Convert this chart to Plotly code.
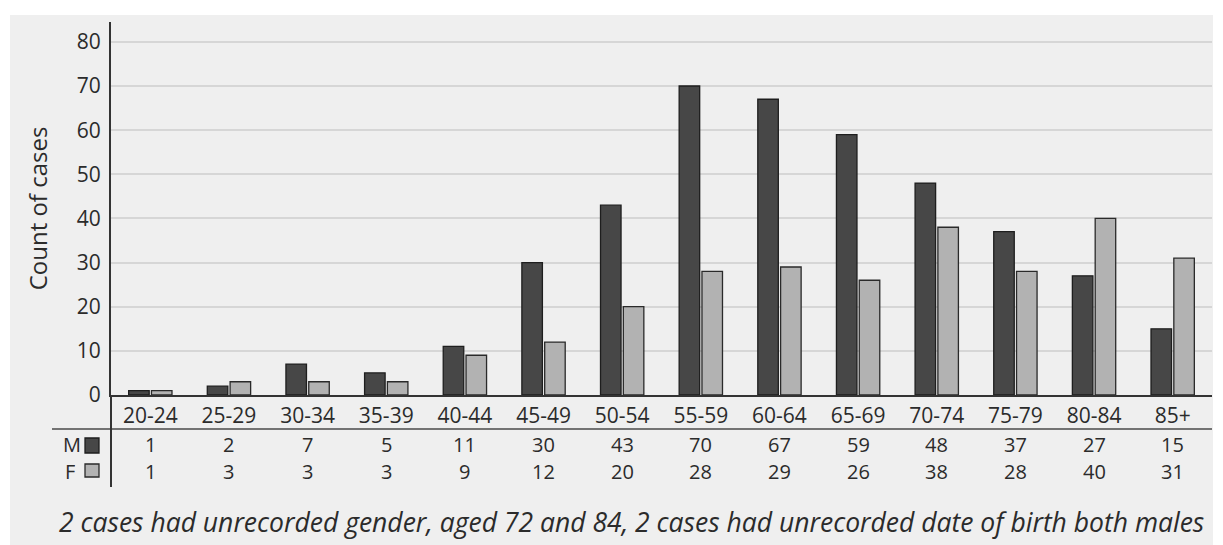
import plotly.graph_objects as go

categories = ["20-24", "25-29", "30-34", "35-39", "40-44", "45-49", "50-54",
              "55-59", "60-64", "65-69", "70-74", "75-79", "80-84", "85+"]
male = [1, 2, 7, 5, 11, 30, 43, 70, 67, 59, 48, 37, 27, 15]
female = [1, 3, 3, 3, 9, 12, 20, 28, 29, 26, 38, 28, 40, 31]
y_ticks = [0, 10, 20, 30, 40, 50, 60, 70, 80]
footnote = "2 cases had unrecorded gender, aged 72 and 84, 2 cases had unrecorded date of birth both males"

OFF = 8  # page body margin
W, H = 1215, 537
L, R, T, B = 103, 11, 14, 150
pw, ph = W - L - R, H - T - B

def px_y(p):  # screen pixel row -> paper y
    return (H - B - (p - OFF)) / ph

def px_x(p):  # screen pixel col -> paper x
    return ((p - OFF) - L) / pw

FONT = "Open Sans"
TXT = "#2b2b2b"
BG = "#efefef"
MCOL, MLINE = "#474747", "#1e1e1e"
FCOL, FLINE = "#b2b2b2", "#2a2a2a"
FS = 21
TFS = 20

fig = go.Figure()
fig.add_trace(go.Bar(x=categories, y=male, name="M",
                     marker=dict(color=MCOL, line=dict(color=MLINE, width=1.3))))
fig.add_trace(go.Bar(x=categories, y=female, name="F",
                     marker=dict(color=FCOL, line=dict(color=FLINE, width=1.3))))

annotations = []
for c, m, f in zip(categories, male, female):
    annotations.append(dict(x=c, y=px_y(444), xref="x", yref="paper", text=str(m),
                            yanchor="middle", xanchor="center", height=22,
                            showarrow=False, font=dict(size=TFS, color=TXT, family=FONT)))
    annotations.append(dict(x=c, y=px_y(471), xref="x", yref="paper", text=str(f),
                            yanchor="middle", xanchor="center", height=22,
                            showarrow=False, font=dict(size=TFS, color=TXT, family=FONT)))
annotations.append(dict(x=px_x(83), y=px_y(444), xref="paper", yref="paper", text="M",
                        xanchor="right", yanchor="middle", showarrow=False, height=22,
                        font=dict(size=TFS, color=TXT, family=FONT)))
annotations.append(dict(x=px_x(77), y=px_y(471), xref="paper", yref="paper", text="F",
                        xanchor="right", yanchor="middle", showarrow=False, height=22,
                        font=dict(size=TFS, color=TXT, family=FONT)))
annotations.append(dict(x=px_x(631), y=px_y(522), xref="paper", yref="paper",
                        text="<i>" + footnote + "</i>", showarrow=False,
                        xanchor="center", yanchor="middle",
                        font=dict(size=26.5, color=TXT, family=FONT)))

shapes = [
    # grey panel
    dict(type="rect", xref="paper", yref="paper", x0=px_x(10), x1=px_x(1213),
         y0=px_y(560), y1=px_y(15), fillcolor=BG, line=dict(width=0), layer="below"),
    # separator under category labels
    dict(type="line", xref="paper", yref="paper", x0=px_x(52), x1=1, y0=px_y(429), y1=px_y(429),
         line=dict(color="#4a4a4a", width=1.5)),
    # y axis extension through table
    dict(type="line", xref="paper", yref="paper", x0=0, x1=0, y0=px_y(487), y1=0,
         line=dict(color="#333333", width=2)),
    # legend squares
    dict(type="rect", xref="paper", yref="paper", x0=px_x(85), x1=px_x(99),
         y0=px_y(453), y1=px_y(438), fillcolor=MCOL, line=dict(color=MLINE, width=1.3)),
    dict(type="rect", xref="paper", yref="paper", x0=px_x(85), x1=px_x(99),
         y0=px_y(477), y1=px_y(464), fillcolor=FCOL, line=dict(color=FLINE, width=1.3)),
]

fig.update_layout(
    width=W, height=H,
    margin=dict(l=L, r=R, t=T, b=B, pad=0),
    paper_bgcolor="white", plot_bgcolor=BG,
    barmode="group", bargap=0.42, bargroupgap=0.1,
    showlegend=False,
    font=dict(family=FONT, color=TXT, size=FS),
    xaxis=dict(showline=True, linecolor="#333333", linewidth=2, ticks="", showgrid=False,
               tickfont=dict(size=FS, color=TXT), ticklabelstandoff=1, fixedrange=True),
    yaxis=dict(range=[0, 84.5], tickvals=y_ticks, showline=True, linecolor="#333333", linewidth=2,
               showgrid=True, gridcolor="#d6d6d6", gridwidth=1.5, zeroline=False,
               ticks="", ticklabelstandoff=4,
               tickfont=dict(size=FS, color=TXT),
               title=dict(text="Count of cases", font=dict(size=24, color=TXT), standoff=22)),
    annotations=annotations,
    shapes=shapes,
)

fig.write_html("out.html")
